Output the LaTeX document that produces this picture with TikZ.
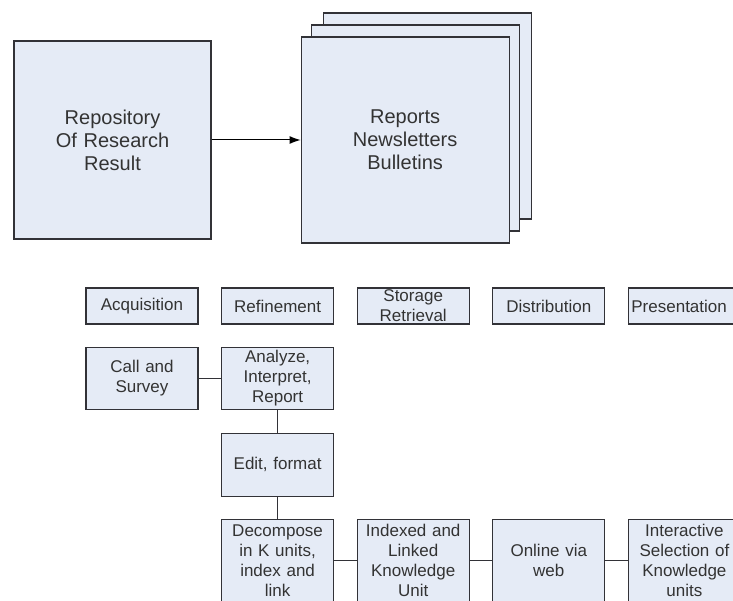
\documentclass[tikz,border=0pt]{standalone}
\usepackage{fontspec}
\setmainfont{Liberation Sans}
\usepackage{tikz}
\usetikzlibrary{positioning, backgrounds, arrows.meta}

\definecolor{boxfill}{RGB}{229,235,246}
\definecolor{boxline}{RGB}{50,50,55}

\begin{document}
\begin{tikzpicture}[x=1pt,y=-1pt,node distance=22.5pt,
                    box/.style={rectangle,draw=boxline,fill=boxfill,line width=1.1pt,inner sep=2pt,
                      text=black!80,text width=106pt,align=center,minimum width=112pt,
                      font=\fontsize{17}{20}\selectfont},
                    big box/.style={box,text width=180pt,font=\fontsize{20}{23}\selectfont},
                    link/.style={draw=boxline,line width=0.9pt}]
  \useasboundingbox (0,0) rectangle (733,601);

  % top part
  \node[big box,minimum width=197pt,minimum height=198pt] (repo) at (112.5,140)
    {Repository\\Of Research\\Result};
  \node[big box,minimum width=208pt,minimum height=206pt,right=89pt of repo] (reports)
    {Reports\\Newsletters\\Bulletins};
  \begin{scope}[on background layer]
    \node[big box,minimum width=208pt,minimum height=206pt] (page3)
      at ([shift={(22pt,24pt)}]reports.center) {};
    \node[big box,minimum width=208pt,minimum height=206pt] (page2)
      at ([shift={(10pt,12pt)}]reports.center) {};
  \end{scope}
  \draw[black,line width=1pt,-{Latex[length=11pt,width=8pt]}] (repo) -- (reports);

  % phases
  \node[box,minimum height=36pt] (acq) at (142,306) {Acquisition};
  \node[box,minimum height=36pt,right=of acq] (refine) {Refinement};
  \node[box,minimum height=36pt,inner ysep=0pt,right=of refine] (storage) {Storage\\Retrieval};
  \node[box,minimum height=36pt,right=of storage] (distrib) {Distribution};
  \node[box,minimum height=36pt,align=left,right=of distrib] (present) {Presentation};

  % steps
  \node[box,minimum height=62pt,below=of acq] (call) {Call and\\Survey};
  \node[box,minimum height=62pt,right=of call] (analyze) {Analyze,\\Interpret,\\Report};
  \node[box,minimum height=63pt,below=of analyze] (edit) {Edit, format};
  \node[box,minimum height=82pt,below=of edit] (decomp) {Decompose\\in K units,\\index and\\link};
  \node[box,minimum height=82pt,right=of decomp] (indexed) {Indexed and\\Linked\\Knowledge\\Unit};
  \node[box,minimum height=82pt,right=of indexed] (online) {Online via\\web};
  \node[box,minimum height=82pt,right=of online] (select) {Interactive\\Selection of\\Knowledge\\units};

  \draw[link]
    (call) -- (analyze)
    (analyze) -- (edit)
    (edit) -- (decomp)
    (decomp) -- (indexed)
    (indexed) -- (online)
    (online) -- (select)
    ;
\end{tikzpicture}
\end{document}
